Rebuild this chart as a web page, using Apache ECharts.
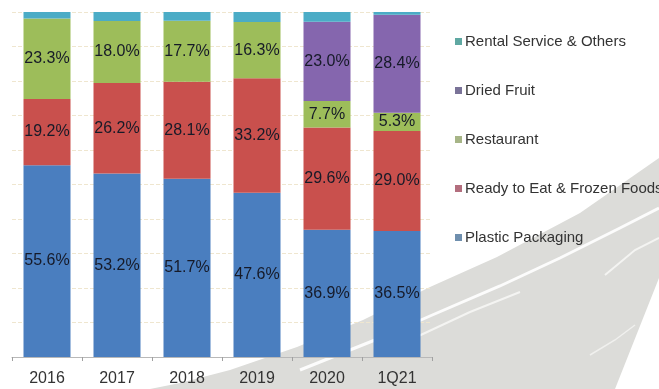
<!DOCTYPE html>
<html>
<head>
<meta charset="utf-8">
<script src="https://cdn.jsdelivr.net/npm/echarts@6/dist/echarts.min.js"></script>
<style>
html,body{margin:0;padding:0;background:#fff;}
#chart{width:659px;height:389px;}
</style>
</head>
<body>
<div id="chart"></div>
<script>
var categories = ['2016', '2017', '2018', '2019', '2020', '1Q21'];
var plasticPackaging = [55.6, 53.2, 51.7, 47.6, 36.9, 36.5];
var readyToEat = [19.2, 26.2, 28.1, 33.2, 29.6, 29.0];
var restaurant = [23.3, 18.0, 17.7, 16.3, 7.7, 5.3];
var driedFruit = [0, 0, 0, 0, 23.0, 28.4];
var rentalOthers = [1.9, 2.6, 2.5, 2.9, 2.8, 0.8];

var seriesNames = ['Plastic Packaging', 'Ready to Eat & Frozen Foods', 'Restaurant', 'Dried Fruit', 'Rental Service & Others'];
var seriesData = [plasticPackaging, readyToEat, restaurant, driedFruit, rentalOthers];
var barColors = ['#4a7ebf', '#c9504d', '#9dbd5a', '#8566ae', '#4bacc6'];
var legendColors = ['#6f8fae', '#b36e7e', '#a7b587', '#7a7398', '#5fa8a2'];
var showLabel = [true, true, true, true, false];

var chart = echarts.init(document.getElementById('chart'));

var series = seriesNames.map(function (name, i) {
  return {
    name: name,
    type: 'bar',
    stack: 'total',
    barWidth: 47,
    data: seriesData[i],
    itemStyle: { color: barColors[i] },
    label: {
      show: showLabel[i],
      position: 'inside',
      fontFamily: 'Liberation Sans, Arial, sans-serif',
      fontSize: 16,
      color: '#161a28',
      formatter: function (p) { return p.value > 0 ? p.value.toFixed(1) + '%' : ''; }
    },
    z: 3
  };
});

var option = {
  animation: false,
  backgroundColor: '#ffffff',
  graphic: [
    {
      type: 'polygon',
      z: 0,
      silent: true,
      shape: {
        points: [[150, 389], [180, 383], [230, 370], [297, 347], [363, 320], [430, 287], [497, 257], [580, 213], [659, 158], [659, 278], [615, 389]]
      },
      style: { fill: '#dcdcd9' }
    },
    {
      type: 'polyline',
      z: 0,
      silent: true,
      shape: { points: [[300, 370], [380, 338], [430, 316], [500, 286], [560, 258], [620, 228], [659, 208]] },
      style: { stroke: '#ffffff', lineWidth: 3, fill: null, opacity: 0.9 }
    },
    {
      type: 'polyline',
      z: 0,
      silent: true,
      shape: { points: [[410, 340], [470, 312], [520, 292]] },
      style: { stroke: '#f4f4f2', lineWidth: 2, fill: null }
    },
    {
      type: 'polyline',
      z: 0,
      silent: true,
      shape: { points: [[605, 275], [635, 250], [659, 238]] },
      style: { stroke: '#f4f4f2', lineWidth: 2, fill: null }
    },
    {
      type: 'polyline',
      z: 0,
      silent: true,
      shape: { points: [[590, 355], [615, 340], [635, 325]] },
      style: { stroke: '#f0f0ee', lineWidth: 1.5, fill: null }
    }
  ],
  grid: { left: 12, right: 227, top: 12, bottom: 32 },
  legend: {
    orient: 'vertical',
    left: 450,
    top: 29,
    itemWidth: 7,
    itemHeight: 7,
    itemGap: 34,
    icon: 'rect',
    textStyle: { fontFamily: 'Liberation Sans, Arial, sans-serif', fontSize: 15, color: '#333333', padding: [0, 0, 0, -2] },
    data: [4, 3, 2, 1, 0].map(function (i) {
      return { name: seriesNames[i], itemStyle: { color: legendColors[i] } };
    })
  },
  xAxis: {
    type: 'category',
    data: categories,
    axisLine: { show: true, lineStyle: { color: '#b8b8b8', width: 1 } },
    axisTick: { show: true, alignWithLabel: false, length: 4, lineStyle: { color: '#a0a0a0' } },
    axisLabel: { margin: 14, fontFamily: 'Liberation Sans, Arial, sans-serif', fontSize: 16, color: '#333333' }
  },
  yAxis: {
    type: 'value',
    min: 0,
    max: 100,
    interval: 10,
    axisLine: { show: false },
    axisTick: { show: false },
    axisLabel: { show: false },
    splitLine: { show: true, lineStyle: { color: '#efe6cf', type: 'dashed', width: 1 } }
  },
  series: series
};

chart.setOption(option);
</script>
</body>
</html>
